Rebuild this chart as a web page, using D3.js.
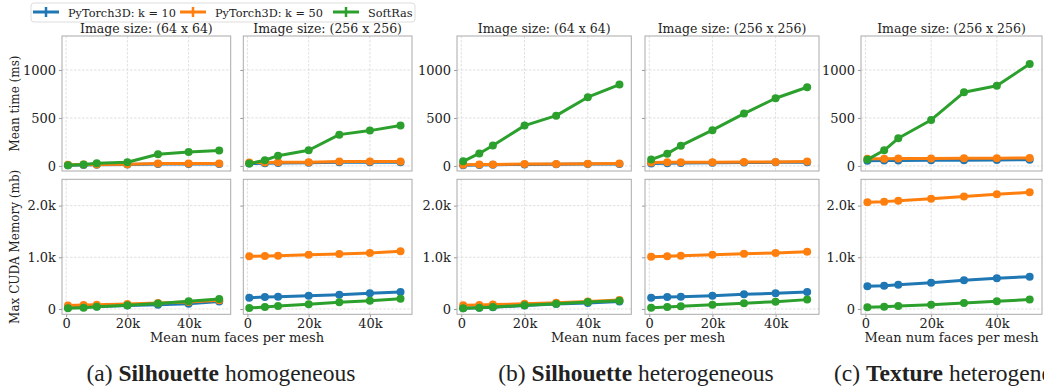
<!DOCTYPE html>
<html>
<head>
<meta charset="utf-8">
<script src="https://cdn.jsdelivr.net/npm/d3@7"></script>
<style>
  body { margin: 0; background: #fff; }
  svg { display: block; }
  text { font-family: "DejaVu Serif", serif; fill: #222; }
</style>
</head>
<body>
<div id="chart"></div>
<script>
var chart_width = 1044;
var chart_height = 387;

// Data
var faces = [600, 5700, 10000, 20000, 30000, 40000, 50000];
var series_names = ['PyTorch3D: k = 10', 'PyTorch3D: k = 50', 'SoftRas'];
var series_colors = ['#1f77b4', '#ff7f0e', '#2ca02c'];
var panel_titles = ['Image size: (64 x 64)', 'Image size: (256 x 256)', 'Image size: (64 x 64)', 'Image size: (256 x 256)', 'Image size: (256 x 256)'];

// mean time (ms), one row per panel
var time_k10 = [
	[8, 10, 12, 14, 20, 20, 20],
	[25, 28, 30, 32, 38, 38, 38],
	[8, 10, 12, 16, 17, 19, 21],
	[25, 28, 30, 32, 35, 37, 38],
	[55, 56, 57, 58, 60, 62, 65]
];
var time_k50 = [
	[12, 14, 15, 17, 25, 25, 24],
	[35, 36, 38, 38, 45, 46, 46],
	[12, 14, 16, 20, 21, 23, 25],
	[35, 37, 38, 38, 40, 42, 45],
	[75, 75, 76, 78, 80, 81, 82]
];
var time_softras = [
	[7, 14, 28, 38, 122, 146, 160],
	[24, 59, 107, 163, 326, 368, 422],
	[48, 130, 213, 420, 524, 716, 848],
	[66, 128, 211, 373, 545, 705, 820],
	[66, 163, 288, 479, 767, 836, 1062]
];

// max CUDA memory (mb)
var mem_k10 = [
	[30, 40, 50, 65, 80, 100, 145],
	[219, 230, 238, 257, 277, 303, 329],
	[15, 25, 35, 65, 95, 115, 145],
	[219, 230, 238, 257, 284, 303, 329],
	[439, 451, 470, 509, 555, 594, 625]
];
var mem_k50 = [
	[65, 75, 82, 97, 115, 135, 168],
	[1019, 1024, 1031, 1050, 1063, 1083, 1116],
	[71, 78, 85, 100, 120, 145, 174],
	[1012, 1020, 1028, 1050, 1068, 1085, 1109],
	[2064, 2077, 2096, 2135, 2174, 2218, 2257]
];
var mem_softras = [
	[13, 25, 45, 70, 105, 148, 193],
	[19, 39, 58, 91, 129, 161, 200],
	[13, 25, 40, 71, 103, 135, 161],
	[26, 39, 52, 84, 110, 142, 181],
	[32, 45, 58, 84, 116, 148, 181]
];

var x_ticks = [0, 20000, 40000];
var x_tick_labels = ['0', '20k', '40k'];
var time_ticks = [0, 500, 1000];
var time_tick_labels = ['0', '500', '1000'];
var mem_ticks = [0, 1000, 2000];
var mem_tick_labels = ['0', '1.0k', '2.0k'];

var captions = [
	{pre: '(a) ', bold: 'Silhouette', post: ' homogeneous'},
	{pre: '(b) ', bold: 'Silhouette', post: ' heterogeneous'},
	{pre: '(c) ', bold: 'Texture', post: ' heterogeneous'}
];

// Layout
var panel_x = [[62, 230.7], [243.3, 412], [457, 631.3], [645, 819], [861, 1042]];
var show_ylabels = [true, false, true, false, true];
var rows = [
	{top: 36, bottom: 171, domain: [-53, 1354], ticks: time_ticks, labels: time_tick_labels,
	 data: [time_k10, time_k50, time_softras], title: 'Mean time (ms)'},
	{top: 179.3, bottom: 314.3, domain: [-103, 2509], ticks: mem_ticks, labels: mem_tick_labels,
	 data: [mem_k10, mem_k50, mem_softras], title: 'Max CUDA Memory (mb)'}
];

var svg = d3.select('#chart')
			.append('svg')
			.attr('width', chart_width)
			.attr('height', chart_height);

rows.forEach(function(row, ri){
	var y = d3.scaleLinear().domain(row.domain).range([row.bottom, row.top]);

	panel_x.forEach(function(px, pi){
		var x = d3.scaleLinear().domain([-1350, 53750]).range(px);
		var g = svg.append('g');

		// grid
		g.selectAll('.gx').data(x_ticks).enter().append('line')
			.attr('x1', function(d){ return x(d); }).attr('x2', function(d){ return x(d); })
			.attr('y1', row.top).attr('y2', row.bottom)
			.attr('stroke', '#d8d8d8').attr('stroke-width', 0.8).attr('stroke-dasharray', '2.5,1.5');
		g.selectAll('.gy').data(row.ticks).enter().append('line')
			.attr('x1', px[0]).attr('x2', px[1])
			.attr('y1', function(d){ return y(d); }).attr('y2', function(d){ return y(d); })
			.attr('stroke', '#d8d8d8').attr('stroke-width', 0.8).attr('stroke-dasharray', '2.5,1.5');

		// y axis
		var yAxis = d3.axisLeft(y).tickValues(row.ticks).tickSize(3).tickPadding(3)
			.tickFormat(function(d, i){ return show_ylabels[pi] ? row.labels[i] : ''; });
		var ya = g.append('g').attr('transform', 'translate(' + px[0] + ',0)').call(yAxis);
		ya.select('.domain').remove();
		ya.selectAll('line').attr('stroke', '#999');
		ya.selectAll('text').style('font-family', '"DejaVu Serif", serif').style('font-size', '13px').attr('fill', '#222');

		// x axis on bottom row
		if (ri === 1) {
			var xAxis = d3.axisBottom(x).tickValues(x_ticks).tickSize(3).tickPadding(1)
				.tickFormat(function(d, i){ return x_tick_labels[i]; });
			var xa = g.append('g').attr('transform', 'translate(0,' + row.bottom + ')').call(xAxis);
			xa.select('.domain').remove();
			xa.selectAll('line').attr('stroke', '#999');
			xa.selectAll('text').style('font-family', '"DejaVu Serif", serif').style('font-size', '13px').attr('fill', '#222');
		}

		// series
		var line = d3.line().x(function(d, i){ return x(faces[i]); }).y(function(d){ return y(d); });
		row.data.forEach(function(series, si){
			var vals = series[pi];
			g.append('path')
				.attr('d', line(vals))
				.attr('fill', 'none')
				.attr('stroke', series_colors[si])
				.attr('stroke-width', 3)
				.attr('stroke-linejoin', 'round');
			g.selectAll('.pt' + si).data(vals).enter().append('circle')
				.attr('cx', function(d, i){ return x(faces[i]); })
				.attr('cy', function(d){ return y(d); })
				.attr('r', 4)
				.attr('fill', series_colors[si]);
		});

		// frame
		g.append('rect')
			.attr('x', px[0]).attr('y', row.top)
			.attr('width', px[1] - px[0]).attr('height', row.bottom - row.top)
			.attr('fill', 'none').attr('stroke', '#aaa').attr('stroke-width', 1);

		if (ri === 0) {
			g.append('text')
				.attr('x', (px[0] + px[1]) / 2).attr('y', 33)
				.attr('text-anchor', 'middle')
				.style('font-size', '12.5px')
				.text(panel_titles[pi]);
		}
	});

	// row y label
	svg.append('text')
		.attr('transform', 'translate(19,' + ((row.top + row.bottom) / 2) + ') rotate(-90)')
		.attr('text-anchor', 'middle')
		.style('font-size', '12px')
		.text(row.title);
});

// x labels per group
[[62, 412], [457, 819], [861, 1042]].forEach(function(r){
	svg.append('text')
		.attr('x', (r[0] + r[1]) / 2).attr('y', 342)
		.attr('text-anchor', 'middle')
		.style('font-size', '13px')
		.text('Mean num faces per mesh');
});

// captions (the third one runs off the right edge, as in the original figure)
var caption_x = [221, 636, 834];
captions.forEach(function(c, i){
	var t = svg.append('text')
		.attr('x', caption_x[i]).attr('y', 381)
		.attr('text-anchor', i < 2 ? 'middle' : 'start')
		.style('font-family', '"Liberation Serif", "Times New Roman", serif')
		.style('font-size', '23.5px')
		.attr('fill', '#111');
	t.append('tspan').text(c.pre);
	t.append('tspan').style('font-weight', 'bold').text(c.bold);
	t.append('tspan').text(c.post);
});

// legend
var legend = svg.append('g');
legend.append('rect')
	.attr('x', 31).attr('y', 3).attr('width', 384).attr('height', 19).attr('rx', 3)
	.attr('fill', '#fff').attr('stroke', '#ddd');
var legend_x = [33, 180, 333];
series_names.forEach(function(name, i){
	var lx = legend_x[i];
	legend.append('line')
		.attr('x1', lx).attr('x2', lx + 26).attr('y1', 12).attr('y2', 12)
		.attr('stroke', series_colors[i]).attr('stroke-width', 3);
	legend.append('line')
		.attr('x1', lx + 13).attr('x2', lx + 13).attr('y1', 7).attr('y2', 17)
		.attr('stroke', series_colors[i]).attr('stroke-width', 2.5);
	legend.append('text')
		.attr('x', lx + 35).attr('y', 16.5)
		.style('font-size', '11.3px')
		.text(name);
});
</script>
</body>
</html>
